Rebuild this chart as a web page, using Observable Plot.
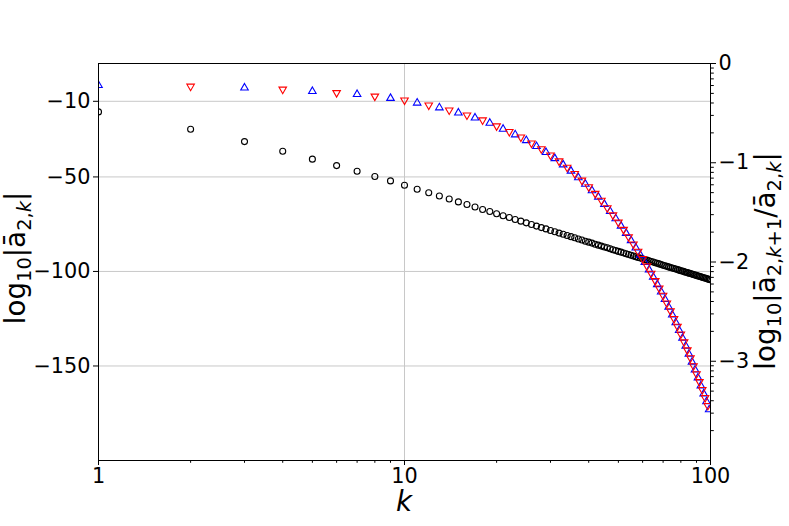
<!DOCTYPE html>
<html><head><meta charset="utf-8">
<script src="https://cdn.jsdelivr.net/npm/d3@7"></script>
<script src="https://cdn.jsdelivr.net/npm/@observablehq/plot@0.6"></script>
<style>body{margin:0;background:#fff}</style>
</head><body><div id="chart"></div>
<script>
// k index 1..100
const kValues = d3.range(1, 101);
// left axis: log10|a_{2,k}|, k = 1..100
const logAbsA = [
  -15.6, -24.8, -31.3, -36.4, -40.6, -44.0, -47.0, -49.8, -52.1, -54.4,
  -56.5, -58.4, -60.1, -61.7, -63.2, -64.6, -65.9, -67.2, -68.3, -69.5,
  -70.5, -71.5, -72.5, -73.4, -74.3, -75.2, -76.0, -76.8, -77.5, -78.3,
  -79.0, -79.7, -80.3, -81.0, -81.6, -82.2, -82.8, -83.4, -84.0, -84.5,
  -85.0, -85.6, -86.1, -86.6, -87.1, -87.5, -88.0, -88.5, -88.9, -89.4,
  -89.8, -90.2, -90.6, -91.0, -91.4, -91.8, -92.2, -92.6, -92.9, -93.3,
  -93.7, -94.0, -94.4, -94.7, -95.0, -95.4, -95.7, -96.0, -96.3, -96.7,
  -97.0, -97.3, -97.6, -97.9, -98.2, -98.4, -98.7, -99.0, -99.3, -99.6,
  -99.8, -100.1, -100.4, -100.6, -100.9, -101.1, -101.4, -101.6, -101.9, -102.1,
  -102.4, -102.6, -102.8, -103.1, -103.3, -103.5, -103.7, -104.0, -104.2, -104.4
];
// right axis: log10|a_{2,k+1}/a_{2,k}|, k = 1..99 (odd k blue, even k red)
const logRatio = [
  -0.22, -0.23, -0.245, -0.26, -0.28, -0.295, -0.31, -0.33, -0.35, -0.37,
  -0.397, -0.42, -0.445, -0.47, -0.497, -0.52, -0.547, -0.57, -0.60, -0.63,
  -0.66, -0.687, -0.717, -0.743, -0.775, -0.803, -0.835, -0.86, -0.895, -0.923,
  -0.957, -0.983, -1.02, -1.047, -1.083, -1.11, -1.15, -1.177, -1.215, -1.243,
  -1.28, -1.31, -1.345, -1.38, -1.418, -1.455, -1.49, -1.527, -1.563, -1.60,
  -1.637, -1.673, -1.71, -1.747, -1.783, -1.82, -1.857, -1.893, -1.93, -1.967,
  -2.004, -2.041, -2.078, -2.115, -2.152, -2.189, -2.226, -2.263, -2.30, -2.337,
  -2.376, -2.415, -2.454, -2.493, -2.532, -2.571, -2.61, -2.649, -2.688, -2.727,
  -2.767, -2.807, -2.847, -2.887, -2.927, -2.967, -3.007, -3.047, -3.087, -3.127,
  -3.167, -3.207, -3.247, -3.287, -3.327, -3.367, -3.407, -3.447, -3.487
];
const leftTicks = [-10, -50, -100, -150];
const rightTicks = [0, -1, -2, -3];
const xTicks = [1, 10, 100];
const xMinorTicks = [2, 3, 4, 5, 6, 7, 8, 9, 20, 30, 40, 50, 60, 70, 80, 90];
const rightMinorMultipliers = [2, 3, 4, 5, 6, 7, 8, 9];
const rightDecades = [0, -1, -2, -3];
const leftDomain = [-200, 10];
const rightDomain = [-4, 0];

const ratio = (leftDomain[1] - leftDomain[0]) / (rightDomain[1] - rightDomain[0]);
const toLeft = r => leftDomain[1] + (r - rightDomain[1]) * ratio;
const toRight = l => rightDomain[1] + (l - leftDomain[1]) / ratio;
const fmt = d => d < 0 ? "\u2212" + Math.abs(d) : String(d);

const rightMinor = [];
rightDecades.forEach(dec => rightMinorMultipliers.forEach(m => rightMinor.push(dec - 1 + Math.log10(m))));

const circles = kValues.map((k, i) => ({k, v: logAbsA[i]}));
const ratios = logRatio.map((v, i) => ({k: i + 1, v}));
const blue = ratios.filter(d => d.k % 2 === 1);
const red = ratios.filter(d => d.k % 2 === 0);

const FS = 20.8;
const svg = Plot.plot({
  width: 789, height: 526,
  marginLeft: 98, marginRight: 79, marginTop: 63, marginBottom: 66,
  style: {fontFamily: "'DejaVu Sans', sans-serif", fontSize: FS + "px", color: "black", background: "white"},
  x: {type: "log", domain: [1, 100]},
  y: {domain: leftDomain},
  marks: [
    Plot.gridY(leftTicks, {stroke: "#c8c8c8", strokeOpacity: 1, strokeWidth: 1}),
    Plot.gridX([10], {stroke: "#c8c8c8", strokeOpacity: 1, strokeWidth: 1}),
    Plot.axisX(xTicks, {tickSize: 5, tickPadding: 3, tickFormat: d => String(d), label: null}),
    Plot.axisX(xMinorTicks, {tickSize: 2.8, tickFormat: () => "", label: null}),
    Plot.axisY(leftTicks, {anchor: "left", tickSize: 5, tickPadding: 3, tickFormat: fmt, label: null}),
    Plot.axisY(rightTicks.map(toLeft), {anchor: "right", tickSize: 5, tickPadding: 3, tickFormat: d => fmt(Math.round(toRight(d))), label: null}),
    Plot.axisY(rightMinor.map(toLeft), {anchor: "right", tickSize: 2.8, tickFormat: () => "", label: null}),
    Plot.dot(circles, {x: "k", y: "v", r: 3, stroke: "black", fill: "none", strokeWidth: 1.1, clip: true}),
    Plot.dot(blue, {x: "k", y: d => toLeft(d.v), symbol: "triangle", r: 2.8, stroke: "#0000ff", fill: "none", strokeWidth: 1.1, clip: true}),
    Plot.dot(red, {x: "k", y: d => toLeft(d.v), symbol: "triangle", rotate: 180, r: 2.8, stroke: "#ff0000", fill: "none", strokeWidth: 1.1, clip: true}),
    Plot.frame({stroke: "black", strokeWidth: 1})
  ]
});

const s = d3.select(svg);
const LFS = 27.8;
function mathLabel(x, y, rotate, parts) {
  const t = s.append("text")
    .attr("transform", `translate(${x},${y}) rotate(${rotate})`)
    .attr("text-anchor", "middle")
    .attr("fill", "black")
    .style("font-family", "'DejaVu Sans', sans-serif")
    .style("font-size", LFS + "px");
  let shift = 0;
  parts.forEach(p => {
    const target = p.sub ? LFS * 0.22 : 0;
    const ts = t.append("tspan").text(p.t).attr("dy", target - shift);
    if (p.sub) ts.style("font-size", (LFS * 0.7) + "px");
    if (p.it) ts.style("font-style", "italic");
    shift = target;
  });
  return t;
}
mathLabel(25, 258, -90, [
  {t: "log"}, {t: "10", sub: true}, {t: "|ā"}, {t: "2,", sub: true}, {t: "k", sub: true, it: true}, {t: "|"}
]);
mathLabel(775, 261, -90, [
  {t: "log"}, {t: "10", sub: true}, {t: "|ā"}, {t: "2,", sub: true}, {t: "k", sub: true, it: true}, {t: "+1", sub: true},
  {t: "/ā"}, {t: "2,", sub: true}, {t: "k", sub: true, it: true}, {t: "|"}
]);
mathLabel(404, 511, 0, [{t: "k", it: true}]);

document.getElementById("chart").appendChild(svg);
</script>
</body></html>
